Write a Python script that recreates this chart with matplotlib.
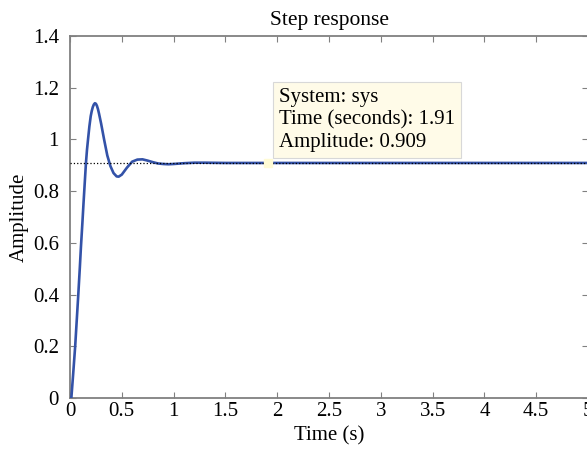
import matplotlib
matplotlib.use("Agg")
import matplotlib.pyplot as plt
from matplotlib.ticker import FormatStrFormatter

# step response values
t = [0, 0.013, 0.03, 0.05, 0.065, 0.08, 0.095, 0.105, 0.12, 0.13, 0.142,
     0.154, 0.164, 0.174, 0.187, 0.20, 0.21, 0.22, 0.23, 0.24, 0.25, 0.26,
     0.27, 0.28, 0.30, 0.33, 0.36, 0.39, 0.42, 0.45, 0.47, 0.50, 0.55,
     0.60, 0.65, 0.70, 0.75, 0.80, 0.85, 0.90, 0.95, 1.0, 1.1, 1.2, 1.3,
     1.5, 2.0, 3.0, 4.0, 5.0]
amp = [0, 0.0, 0.09, 0.2, 0.3, 0.4, 0.505, 0.58, 0.68, 0.75, 0.83,
       0.909, 0.96, 1.0, 1.05, 1.09, 1.11, 1.125, 1.135, 1.14, 1.138, 1.13,
       1.117, 1.10, 1.062, 0.998, 0.938, 0.897, 0.870, 0.857, 0.856,
       0.864, 0.891, 0.914, 0.922, 0.923, 0.918, 0.912, 0.907, 0.905, 0.904,
       0.905, 0.908, 0.910, 0.910, 0.909, 0.909, 0.909, 0.909, 0.909]

final_value = 0.909
tip_t = 1.91
tip_amp = 0.909
tip_lines = ["System: sys", "Time (seconds): 1.91", "Amplitude: 0.909"]

xticks = [0, 0.5, 1, 1.5, 2, 2.5, 3, 3.5, 4, 4.5, 5]
yticks = [0, 0.2, 0.4, 0.6, 0.8, 1.0, 1.2, 1.4]

plt.rcParams['font.family'] = ['Liberation Serif', 'DejaVu Serif']
plt.rcParams['font.size'] = 15

fig = plt.figure(figsize=(5.87, 4.5), dpi=100)
ax = fig.add_axes([70/587, 52/450, 518/587, 362/450])

ax.plot(t, amp, color='#3352a8', lw=1.9, zorder=3)
ax.plot([0, 5], [final_value, final_value], color='black', ls=':', lw=0.9, zorder=4)

ax.plot([tip_t], [tip_amp], marker='s', ms=6, mfc='#fffbd5', mec='#fffbd5', zorder=5)
ax.text(2.017, 1.197, "\n".join(tip_lines), ha='left', va='top', fontsize=15,
        linespacing=1.22, zorder=6,
        bbox=dict(boxstyle='square,pad=0.3', fc='#fffbe8', ec='#d8d8d8', lw=0.8))

ax.set_xlim(0, 5)
ax.set_ylim(0, 1.4)
ax.set_xticks(xticks)
ax.set_yticks(yticks)
ax.xaxis.set_major_formatter(FormatStrFormatter('%g'))
ax.yaxis.set_major_formatter(FormatStrFormatter('%g'))
ax.tick_params(direction='in', length=4, width=0.8, color='#808080',
               top=True, right=True, labelsize=15)
ax.tick_params(axis='x', pad=3)
ax.tick_params(axis='y', pad=8)
for s in ax.spines.values():
    s.set_color('#808080')
    s.set_linewidth(1.3)

ax.set_title("Step response", fontsize=15.5, pad=8)
ax.set_xlabel("Time (s)", fontsize=15, labelpad=4)
ax.set_ylabel("Amplitude", fontsize=15, labelpad=3)

fig.savefig("out.png", dpi=100)
